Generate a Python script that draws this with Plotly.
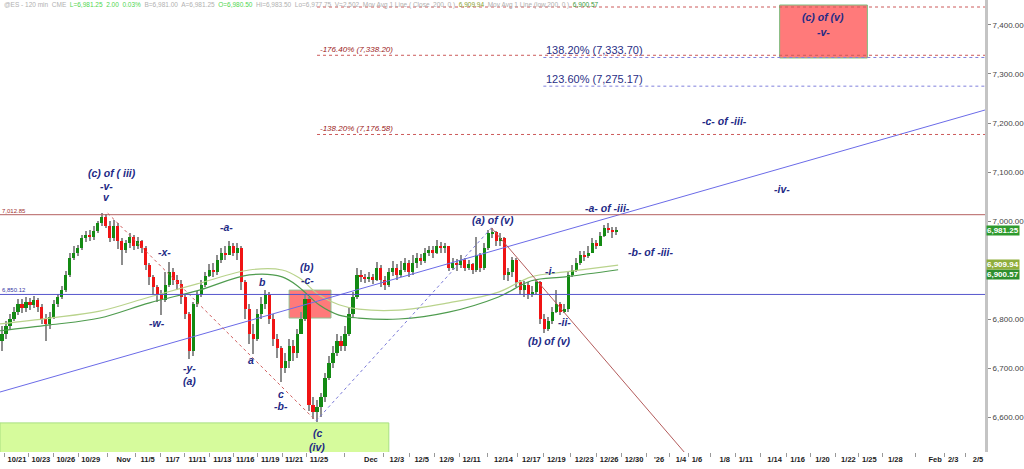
import plotly.graph_objects as go

# ---------------- data (x unit = one 120-min candle slot) ----------------
first_open = 6755.0
closes = [6770, 6785, 6800, 6815, 6830, 6822, 6835, 6828, 6838, 6825,
          6800, 6790, 6805, 6830, 6845, 6860, 6890, 6925, 6935, 6945,
          6965, 6972, 6968, 6980, 6995, 7008, 6990, 6965, 6990, 6960,
          6940, 6955, 6968, 6950, 6960, 6945, 6910, 6885, 6865, 6850,
          6838, 6870, 6895, 6880, 6872, 6845, 6810, 6735, 6830, 6850,
          6870, 6888, 6900, 6895, 6920, 6935, 6930, 6948, 6935, 6945,
          6875, 6820, 6770, 6760, 6810, 6830, 6850, 6800, 6760, 6740,
          6700, 6715, 6745, 6730, 6770, 6800, 6840, 6625, 6610, 6620,
          6640, 6680, 6710, 6730, 6755, 6745, 6770, 6810, 6845, 6890,
          6885, 6882, 6886, 6880, 6905, 6880, 6870, 6895, 6905, 6890,
          6900, 6915, 6895, 6915, 6925, 6918, 6935, 6940, 6935, 6950,
          6945, 6948, 6905, 6915, 6910, 6920, 6905, 6912, 6900, 6930,
          6905, 6945, 6975, 6978, 6960, 6965, 6890, 6895, 6920, 6875,
          6860, 6870, 6850, 6855, 6875, 6800, 6780, 6795, 6815, 6830,
          6815, 6820, 6890, 6900, 6915, 6930, 6928, 6935, 6955, 6950,
          6970, 6985, 6982, 6978, 6981.25]
highs = [6785, 6795, 6810, 6825, 6840, 6840, 6845, 6842, 6846, 6842,
         6830, 6810, 6815, 6838, 6852, 6868, 6898, 6935, 6948, 6952,
         6972, 6980, 6982, 6990, 7000, 7016, 7014, 7000, 7002, 6995,
         6965, 6962, 6975, 6972, 6968, 6962, 6950, 6915, 6890, 6870,
         6860, 6895, 6917, 6905, 6890, 6880, 6850, 6815, 6835, 6858,
         6880, 6895, 6912, 6915, 6930, 6945, 6948, 6960, 6955, 6955,
         6950, 6880, 6830, 6790, 6820, 6845, 6860, 6855, 6810, 6770,
         6745, 6730, 6760, 6758, 6780, 6815, 6852, 6845, 6640, 6635,
         6650, 6690, 6725, 6745, 6770, 6765, 6785, 6822, 6855, 6904,
         6900, 6892, 6895, 6892, 6916, 6910, 6888, 6905, 6918, 6912,
         6918, 6925, 6920, 6930, 6935, 6932, 6945, 6950, 6950, 6961,
         6958, 6955, 6950, 6925, 6922, 6930, 6925, 6920, 6915, 6967,
         6935, 6955, 6982, 6986, 6980, 6975, 6968, 6905, 6927, 6925,
         6880, 6878, 6875, 6868, 6880, 6878, 6810, 6805, 6825, 6859,
         6835, 6830, 6898, 6910, 6925, 6938, 6938, 6948, 6965, 6962,
         6978, 6992, 6995, 6988, 6988]
lows = [6735, 6760, 6780, 6795, 6808, 6812, 6815, 6818, 6822, 6815,
        6790, 6755, 6780, 6800, 6825, 6840, 6855, 6885, 6920, 6928,
        6940, 6958, 6960, 6962, 6975, 6990, 6985, 6958, 6960, 6942,
        6910, 6935, 6945, 6940, 6942, 6935, 6900, 6870, 6850, 6835,
        6808, 6835, 6865, 6870, 6860, 6830, 6800, 6718, 6725, 6825,
        6845, 6865, 6885, 6885, 6890, 6915, 6920, 6930, 6928, 6920,
        6860, 6800, 6750, 6728, 6755, 6800, 6820, 6790, 6745, 6720,
        6671, 6690, 6700, 6715, 6720, 6770, 6795, 6612, 6595, 6590,
        6600, 6630, 6675, 6700, 6725, 6735, 6735, 6765, 6805, 6840,
        6875, 6874, 6876, 6872, 6878, 6865, 6860, 6865, 6888, 6880,
        6885, 6895, 6885, 6890, 6905, 6910, 6915, 6928, 6925, 6932,
        6935, 6935, 6898, 6900, 6898, 6905, 6898, 6900, 6892, 6895,
        6895, 6900, 6940, 6965, 6950, 6950, 6880, 6878, 6885, 6865,
        6850, 6845, 6840, 6845, 6848, 6790, 6772, 6775, 6790, 6812,
        6808, 6812, 6815, 6885, 6895, 6910, 6918, 6925, 6935, 6942,
        6948, 6968, 6975, 6965, 6972]

# 200-period moving averages
ma_x = [-0.5, 12, 24.5, 37, 49.5, 62, 70.25, 74.5, 79.5, 84.5, 89.5,
        99.5, 112, 124.5, 132.75, 141.25, 154.5]
ma_close = [6790, 6802, 6816, 6845, 6873, 6900, 6900, 6884, 6849, 6829, 6820,
            6818, 6833, 6855, 6886, 6896, 6909.94]
ma_low = [6776, 6788, 6802, 6833, 6859, 6890, 6886, 6865, 6829, 6808, 6802,
          6800, 6814, 6845, 6878, 6886, 6900.57]

tick_labels = ["10/21", "10/23", "10/26", "10/29", "Nov", "11/5", "11/7", "11/11",
               "11/13", "11/16", "11/19", "11/21", "11/25", "Dec", "12/3", "12/5",
               "12/9", "12/11", "12/14", "12/17", "12/19", "12/23", "12/26", "12/30",
               "'26", "1/4", "1/6", "1/8", "1/11", "1/14", "1/16", "1/20", "1/22",
               "1/25", "1/28", "Feb", "2/3", "2/5"]
tick_pos = [3.75, 9.75, 16, 22.25, 30.5, 36.5, 42.75, 49, 55.25, 61, 67.25, 73.25,
            79.5, 92.5, 99, 105.25, 111.5, 117.75, 125.75, 132.75, 139, 146, 152.25,
            158.5, 164.75, 170.25, 174.25, 181.25, 186.5, 193.75, 199.5, 205.75,
            212.25, 217.5, 224, 234, 238.5, 244.75]
# the 6,900 label is hidden beneath the moving-average value boxes in the source
y_ticks = [6600, 6700, 6800, 7000, 7100, 7200, 7300, 7400]

fib_red_levels = [7436.7, 7338.20, 7176.58]
fib_red_labels = ["", "-176.40% (7,338.20)", "-138.20% (7,176.58)"]
fib_blue_levels = [7333.70, 7275.17]
fib_blue_labels = ["138.20% (7,333.70)", "123.60% (7,275.17)"]
swing_high = 7012.85
swing_low = 6850.12
last_price = 6981.25
ma_close_last = 6909.94
ma_low_last = 6900.57

trend_blue_x = [-0.5, 246.5]
trend_blue_y = [6651, 7226.5]
diag_red_x = [26.5, 78.75]
diag_red_y = [7016, 6592]
diag_blue_x = [78.75, 122.75]
diag_blue_y = [6592, 6986]
fall_red_x = [122.75, 174.5]
fall_red_y = [6986, 6496]

X0, X1 = -0.5, 246.5
Y0, Y1 = 6528.6, 7451

NAVY = "#232a86"
FONT = "Liberation Sans, Arial, sans-serif"

opens = [first_open] + closes[:-1]
idx = list(range(len(closes)))

fig = go.Figure()

# moving averages
fig.add_trace(go.Scatter(x=ma_x, y=ma_close, mode="lines", line=dict(color="#b9d38c", width=1.2, shape="spline"),
                         hoverinfo="skip"))
fig.add_trace(go.Scatter(x=ma_x, y=ma_low, mode="lines", line=dict(color="#4f9c4f", width=1.2, shape="spline"),
                         hoverinfo="skip"))

# wicks (thin bars, drawn under the bodies)
fig.add_trace(go.Bar(x=idx, y=[h - l for h, l in zip(highs, lows)], base=lows, width=0.28,
                     marker=dict(color="#8d8d8d", line=dict(width=0)), hoverinfo="skip"))

# bodies
base = [min(o, c) for o, c in zip(opens, closes)]
size = [max(abs(c - o), 1.5) for o, c in zip(opens, closes)]
cols = ["#138a13" if c >= o else "#f01414" for o, c in zip(opens, closes)]
fig.add_trace(go.Bar(x=idx, y=size, base=base, width=0.8,
                     marker=dict(color=cols, line=dict(width=0)), hoverinfo="skip"))

# trend lines
fig.add_trace(go.Scatter(x=trend_blue_x, y=trend_blue_y, mode="lines", line=dict(color="#6b6be8", width=1)))
fig.add_trace(go.Scatter(x=diag_red_x, y=diag_red_y, mode="lines", line=dict(color="#d06060", width=1, dash="dot")))
fig.add_trace(go.Scatter(x=diag_blue_x, y=diag_blue_y, mode="lines", line=dict(color="#7a7ad8", width=1, dash="dot")))
fig.add_trace(go.Scatter(x=fall_red_x, y=fall_red_y, mode="lines", line=dict(color="#b45c5c", width=1)))

# horizontal levels
fig.add_trace(go.Scatter(x=[X0, X1], y=[swing_high, swing_high], mode="lines", line=dict(color="#b46060", width=1)))
fig.add_trace(go.Scatter(x=[X0, X1], y=[swing_low, swing_low], mode="lines", line=dict(color="#5555cc", width=1)))
for lv in fib_red_levels:
    fig.add_trace(go.Scatter(x=[79, X1], y=[lv, lv], mode="lines", line=dict(color="#cc5a5a", width=1, dash="dot")))
for lv in fib_blue_levels:
    fig.add_trace(go.Scatter(x=[135.75, X1], y=[lv, lv], mode="lines", line=dict(color="#8080dd", width=1, dash="dot")))

shapes = [
    dict(type="rect", xref="x", yref="y", x0=X0, x1=97, y0=6400, y1=6588, layer="below",
         fillcolor="#d6fb9c", line=dict(color="#a8e080", width=1)),
    dict(type="rect", xref="x", yref="y", x0=72, x1=82.5, y0=6802, y1=6859, layer="below",
         fillcolor="#ff7a7a", line=dict(color="#8fc08f", width=1)),
    dict(type="rect", xref="x", yref="y", x0=195, x1=217, y0=7332.7, y1=7440.8, layer="below",
         fillcolor="#ff7a7a", line=dict(color="#7cbc7c", width=1)),
]

ann = []
wave_labels = [
    ("(c) of ( iii)", 27.5, 7098), ("-v-", 26.25, 7071), ("v", 26.25, 7049),
    ("-x-", 40.75, 6937), ("-a-", 56.25, 6988), ("-w-", 38.75, 6792),
    ("-y-", 47, 6700), ("(a)", 47, 6673), ("b", 65.25, 6876), ("a", 62.5, 6716),
    ("c", 70, 6647), ("-b-", 70, 6622), ("(b)", 76.5, 6906), ("-c-", 76.5, 6880),
    ("(c", 79, 6567), ("(iv)", 79, 6539), ("(a) of (v)", 123, 7002),
    ("-a- of -iii-", 151.75, 7026), ("-b- of -iii-", 162.5, 6937),
    ("-i-", 137.5, 6898), ("-ii-", 141, 6794), ("(b) of (v)", 137.25, 6755),
    ("-iv-", 195.5, 7065), ("-c- of -iii-", 181.25, 7204),
    ("(c) of (v)", 206, 7416), ("-v-", 206, 7386),
]
for t, x, y in wave_labels:
    ann.append(dict(x=x, y=y, xref="x", yref="y", text="<b><i>%s</i></b>" % t, showarrow=False,
                    font=dict(family=FONT, size=10.5, color=NAVY), xanchor="center", yanchor="middle"))

for lv, lab in zip(fib_red_levels, fib_red_labels):
    if lab:
        ann.append(dict(x=79, y=lv, xref="x", yref="y", text="<i>%s</i>" % lab, showarrow=False,
                        font=dict(family=FONT, size=8, color="#9a2020"), xanchor="left", yanchor="bottom",
                        xshift=1, yshift=-1))
for lv, lab in zip(fib_blue_levels, fib_blue_labels):
    ann.append(dict(x=135.75, y=lv, xref="x", yref="y", text=lab, showarrow=False,
                    font=dict(family=FONT, size=11, color="#2a2f86"), xanchor="left", yanchor="bottom",
                    xshift=1, yshift=-1))

ann.append(dict(x=X0, y=swing_high, xref="x", yref="y", text="7,012.85", showarrow=False,
                font=dict(family=FONT, size=6, color="#a03030"), xanchor="left", yanchor="bottom", yshift=-1))
ann.append(dict(x=X0, y=swing_low, xref="x", yref="y", text="6,850.12", showarrow=False,
                font=dict(family=FONT, size=6, color="#3535a5"), xanchor="left", yanchor="bottom", yshift=-1))

# right-axis value boxes
for val, bg, ys in [(last_price, "#2e9a2e", 0), (ma_low_last, "#2e8f2e", -5), (ma_close_last, "#8fae3c", 1)]:
    ann.append(dict(x=1, y=val, xref="paper", yref="y", text="<b>%s</b>" % format(val, ",.2f"),
                    showarrow=False, font=dict(family=FONT, size=8, color="white"), bgcolor=bg,
                    xanchor="left", yanchor="middle", borderpad=0, xshift=1, yshift=ys))

header = ("@ES - 120 min  CME  <span style='color:#4fd64f'>L=6,981.25  2.00  0.03%</span>  "
          "B=6,981.00  A=6,981.25  <span style='color:#4fd64f'>O=6,980.50</span>  Hi=6,983.50  "
          "Lo=6,977.75  V=2,502  Mov Avg 1 Line ( Close ,200, 0 )  "
          "<span style='color:#8aa030'>6,909.94</span>  Mov Avg 1 Line (low,200, 0 )  "
          "<span style='color:#3a9a3a'>6,900.57</span>")
ann.append(dict(x=0, y=1, xref="paper", yref="paper", text=header, showarrow=False,
                font=dict(family=FONT, size=6.5, color="#b0b0b0"), xanchor="left", yanchor="top",
                xshift=2, yshift=1))

minor_vals = [tick_pos[0] - 3] + [(a + b) / 2 for a, b in zip(tick_pos[:-1], tick_pos[1:])]

fig.update_layout(
    width=1024, height=469,
    margin=dict(l=0, r=36, t=0, b=17),
    paper_bgcolor="white", plot_bgcolor="white",
    showlegend=False, shapes=shapes, annotations=ann,
    barmode="overlay", bargap=0,
    xaxis=dict(range=[X0, X1], showgrid=False, zeroline=False, showline=False,
               tickmode="array", tickvals=tick_pos, ticktext=tick_labels,
               ticks="outside", ticklen=0, tickcolor="white",
               tickfont=dict(family=FONT, size=7.5, color="#1a1a1a", weight="bold"),
               minor=dict(tickmode="array", tickvals=minor_vals, ticks="outside", ticklen=4,
                          tickcolor="#999", tickwidth=1, showgrid=False)),
    yaxis=dict(range=[Y0, Y1], side="right", showgrid=False, zeroline=False,
               tickmode="array", tickvals=y_ticks,
               tickformat=",.2f", ticks="outside", ticklen=3, tickcolor="#888",
               showline=True, linecolor="#c4c4c4", linewidth=3,
               tickfont=dict(family=FONT, size=8, color="#444")),
)

fig.write_html("out.html", config={"displayModeBar": False},
               post_script="document.body.style.margin='0';")
